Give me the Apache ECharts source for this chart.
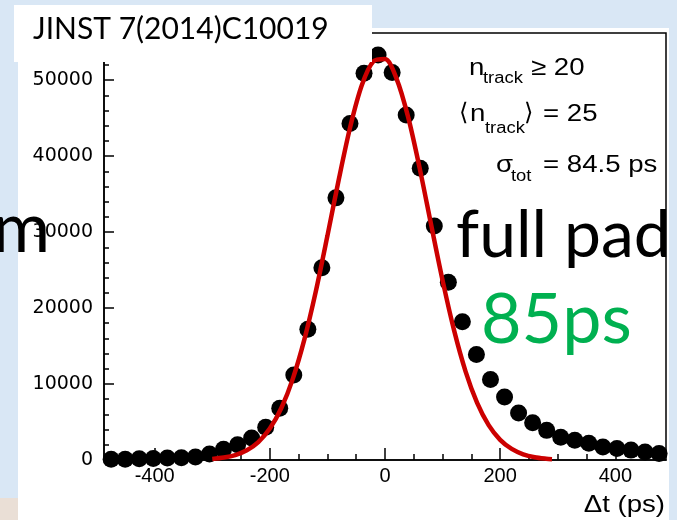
<!DOCTYPE html>
<html>
<head>
<meta charset="utf-8">
<script src="https://cdn.jsdelivr.net/npm/echarts@6/dist/echarts.min.js"></script>
<style>
  body { margin: 0; background: #d9e7f5; }
  #myChart { width: 677px; height: 520px; }
</style>
</head>
<body>
<div id="myChart"></div>
<script>
// bin centres of the histogram (ps)
const binX = [-475.6, -451.2, -426.8, -402.4, -378, -353.6, -329.2, -304.8, -280.4, -256,
  -231.6, -207.2, -182.8, -158.4, -134, -109.6, -85.2, -60.8, -36.4, -12,
  12.4, 36.8, 61.2, 85.6, 110, 134.4, 158.8, 183.2, 207.6, 232,
  256.4, 280.8, 305.2, 329.6, 354, 378.4, 402.8, 427.2, 451.6, 476]
// entries per bin
const counts = [100, 100, 150, 200, 250, 300, 400, 800, 1400, 2000,
  2900, 4300, 6800, 11200, 17200, 25300, 34500, 44300, 50900, 53300,
  51000, 45400, 38400, 30800, 23400, 18200, 13900, 10600, 8300, 6200,
  4900, 3900, 3000, 2600, 2200, 1700, 1500, 1300, 1050, 850]
// red fit curve
const fitX = [-300, -280, -260, -240, -220, -200, -180, -160, -140, -120,
  -100, -80, -60, -40, -20, 0, 20, 40, 60, 80,
  100, 120, 140, 160, 180, 200, 220, 240, 260, 280, 290]
const fitY = [145, 317, 654, 1278, 2364, 4134, 6841, 10712, 15870, 22245,
  29505, 37020, 43953, 49375, 52475, 52766, 50203, 45188, 38485, 31010,
  23643, 17055, 11640, 7517, 4590, 2655, 1453, 752, 368, 170, 113]
// tick labels
const xMajor = [-400, -200, 0, 200, 400]
const xMinor = [-450, -400, -350, -300, -250, -200, -150, -100, -50, 0, 50, 100, 150, 200, 250, 300, 350, 400, 450]
const yMajor = [0, 10000, 20000, 30000, 40000, 50000]
const yMinor = [0, 2000, 4000, 6000, 8000, 10000, 12000, 14000, 16000, 18000, 20000, 22000, 24000, 26000,
  28000, 30000, 32000, 34000, 36000, 38000, 40000, 42000, 44000, 46000, 48000, 50000, 52000, 54000, 56000]

const sans = 'Liberation Sans'

function txt (text, x, y, size, opts) {
  return Object.assign({
    type: 'text', x: x, y: y, z: 100,
    style: Object.assign({
      text: text, font: size + 'px "' + sans + '"', fill: '#000',
      textAlign: 'left', textVerticalAlign: 'middle'
    }, (opts && opts.style) || {})
  }, opts && opts.el)
}

let myChart = echarts.init(document.getElementById('myChart'))
myChart.setOption({
  backgroundColor: 'transparent',
  animation: false,
  grid: {
    left: 104, right: 11, top: 33, bottom: 60,
    show: true, borderColor: '#000', borderWidth: 1.5, backgroundColor: 'transparent'
  },
  xAxis: [
    {
      type: 'value', min: -488, max: 488,
      axisLine: { onZero: false, lineStyle: { color: '#000', width: 1.5 } },
      axisTick: { inside: true, length: 12, customValues: xMajor, lineStyle: { color: '#000', width: 1.5 } },
      axisLabel: { customValues: xMajor, margin: 6, color: '#000', fontSize: 20, fontFamily: sans },
      splitLine: { show: false }
    },
    {
      type: 'value', min: -488, max: 488, position: 'bottom',
      axisLine: { show: false, onZero: false },
      axisTick: { inside: true, length: 6, customValues: xMinor, lineStyle: { color: '#000', width: 1.5 } },
      axisLabel: { show: false, customValues: xMinor },
      splitLine: { show: false }
    }
  ],
  yAxis: [
    {
      type: 'value', min: 0, max: 56200,
      axisLine: { show: true, onZero: false, lineStyle: { color: '#000', width: 1.5 } },
      axisTick: { show: true, inside: true, length: 10, customValues: yMajor, lineStyle: { color: '#000', width: 1.5 } },
      axisLabel: {
        customValues: yMajor, margin: 11, color: '#000', fontSize: 19, fontFamily: 'DejaVu Sans',
        formatter: v => String(v)
      },
      splitLine: { show: false }
    },
    {
      type: 'value', min: 0, max: 56200, position: 'left',
      axisLine: { show: false, onZero: false },
      axisTick: { show: true, inside: true, length: 5, customValues: yMinor, lineStyle: { color: '#000', width: 1.5 } },
      axisLabel: { show: false, customValues: yMinor },
      splitLine: { show: false }
    }
  ],
  series: [
    {
      type: 'scatter', z: 2,
      symbol: 'circle', symbolSize: 17,
      itemStyle: { color: '#000', opacity: 1 },
      data: binX.map((x, i) => [x, counts[i]])
    },
    {
      type: 'line', z: 3,
      smooth: 0.3, showSymbol: false,
      lineStyle: { color: '#cc0000', width: 4.5 },
      data: fitX.map((x, i) => [x, fitY[i]])
    }
  ],
  graphic: [
    // slide background pieces
    { type: 'rect', z: -10, shape: { x: 18, y: 28, width: 651, height: 492 }, style: { fill: '#fff' } },
    { type: 'rect', z: -10, shape: { x: 0, y: 498, width: 18, height: 22 }, style: { fill: '#eadfd6' } },
    { type: 'rect', z: 50, shape: { x: 14, y: 5, width: 358, height: 57 }, style: { fill: '#fff' } },
    txt('JINST 7(2014)C10019', 33, 29, 30, { style: { font: '30px Lato' } }),
    // stats box
    txt('n', 469, 68, 24, { el: { scaleX: 1.15 } }),
    txt('track', 483, 79, 16, { el: { scaleX: 1.15 } }),
    txt('\u2265 20', 531, 68, 24, { el: { scaleX: 1.15 } }),
    txt('\u27e8', 459, 114, 24, { style: { font: '24px "DejaVu Sans"' } }),
    txt('n', 470, 114, 24, { el: { scaleX: 1.15 } }),
    txt('track', 485, 129, 16, { el: { scaleX: 1.15 } }),
    txt('\u27e9', 524, 114, 24, { style: { font: '24px "DejaVu Sans"' } }),
    txt('= 25', 543, 114, 24, { el: { scaleX: 1.15 } }),
    txt('\u03c3', 496, 165, 24, { el: { scaleX: 1.15 } }),
    txt('tot', 511, 177, 16, { el: { scaleX: 1.15 } }),
    txt('= 84.5 ps', 543, 165, 24, { el: { scaleX: 1.15 } }),
    // axis title
    txt('\u0394t (ps)', 665, 505, 24, { style: { textAlign: 'right' }, el: { scaleX: 1.15 } }),
    // slide overlay text
    txt('m', 50, 229, 70, { style: { font: '70px Lato', textAlign: 'right' } }),
    txt('full pad', 456, 236, 66, { style: { font: '66px Lato' } }),
    txt('85ps', 481, 320, 70, { style: { font: '70px Lato', fill: '#00b050' } })
  ]
})
</script>
</body>
</html>
